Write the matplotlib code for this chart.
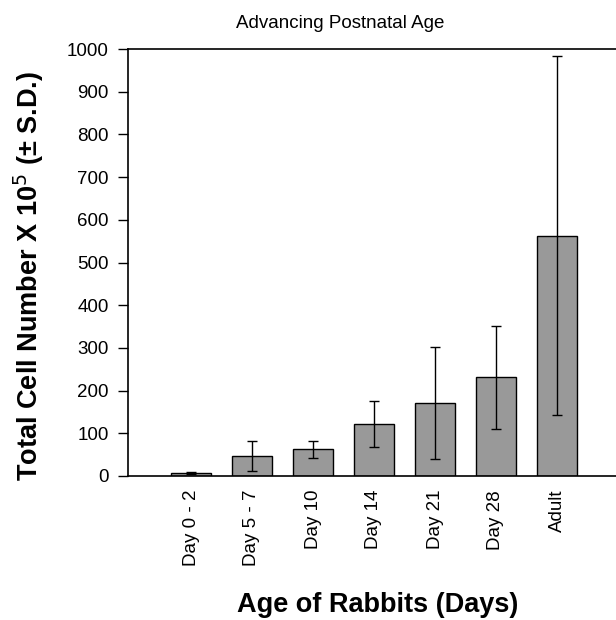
import matplotlib
matplotlib.use("Agg")
import matplotlib.pyplot as plt
import numpy as np

plt.rcParams['font.family'] = ['Liberation Sans', 'DejaVu Sans']

categories = ["Day 0 - 2", "Day 5 - 7", "Day 10", "Day 14", "Day 21", "Day 28", "Adult"]
means = [7, 47, 63, 122, 170, 231, 563]
sds = [2, 35, 20, 53, 131, 121, 420]
y_ticks = [0, 100, 200, 300, 400, 500, 600, 700, 800, 900, 1000]

fig = plt.figure(figsize=(6.16, 6.2), dpi=100)
ax = fig.add_axes([128/616, 1 - 476/620, 1 - 128/616, (476 - 49)/620])

x = np.arange(len(categories))
ax.bar(x, means, width=0.67, color='#999999', edgecolor='black', linewidth=1.0, zorder=2)
ax.errorbar(x, means, yerr=sds, fmt='none', ecolor='black', elinewidth=1.0,
            capsize=3.5, capthick=1.0, zorder=3)

ax.set_xlim((128 - 191)/61, (616 - 191)/61)
ax.set_ylim(0, 1000)
ax.set_yticks(y_ticks)
ax.set_yticklabels([str(v) for v in y_ticks], fontsize=13.5)
ax.set_xticks(x)
ax.set_xticklabels(categories, rotation=90, fontsize=13.5)
ax.tick_params(axis='x', length=0, pad=10)
ax.tick_params(axis='y', direction='out', length=7, width=1.0, pad=7)

ax.spines['right'].set_visible(False)
for s in ['left', 'top', 'bottom']:
    ax.spines[s].set_linewidth(1.2)

fig.text(29/616, 1 - 276/620, "Total Cell Number X 10$^{5}$ (± S.D.)", rotation=90,
         ha='center', va='center', fontsize=19.5, fontweight='bold')
fig.text(378/616, 1 - 605/620, "Age of Rabbits (Days)", ha='center', va='center',
         fontsize=19.5, fontweight='bold')
fig.text(340/616, 1 - 24/620, "Advancing Postnatal Age", ha='center', va='center', fontsize=13.5)

fig.savefig("out.png", dpi=100)
